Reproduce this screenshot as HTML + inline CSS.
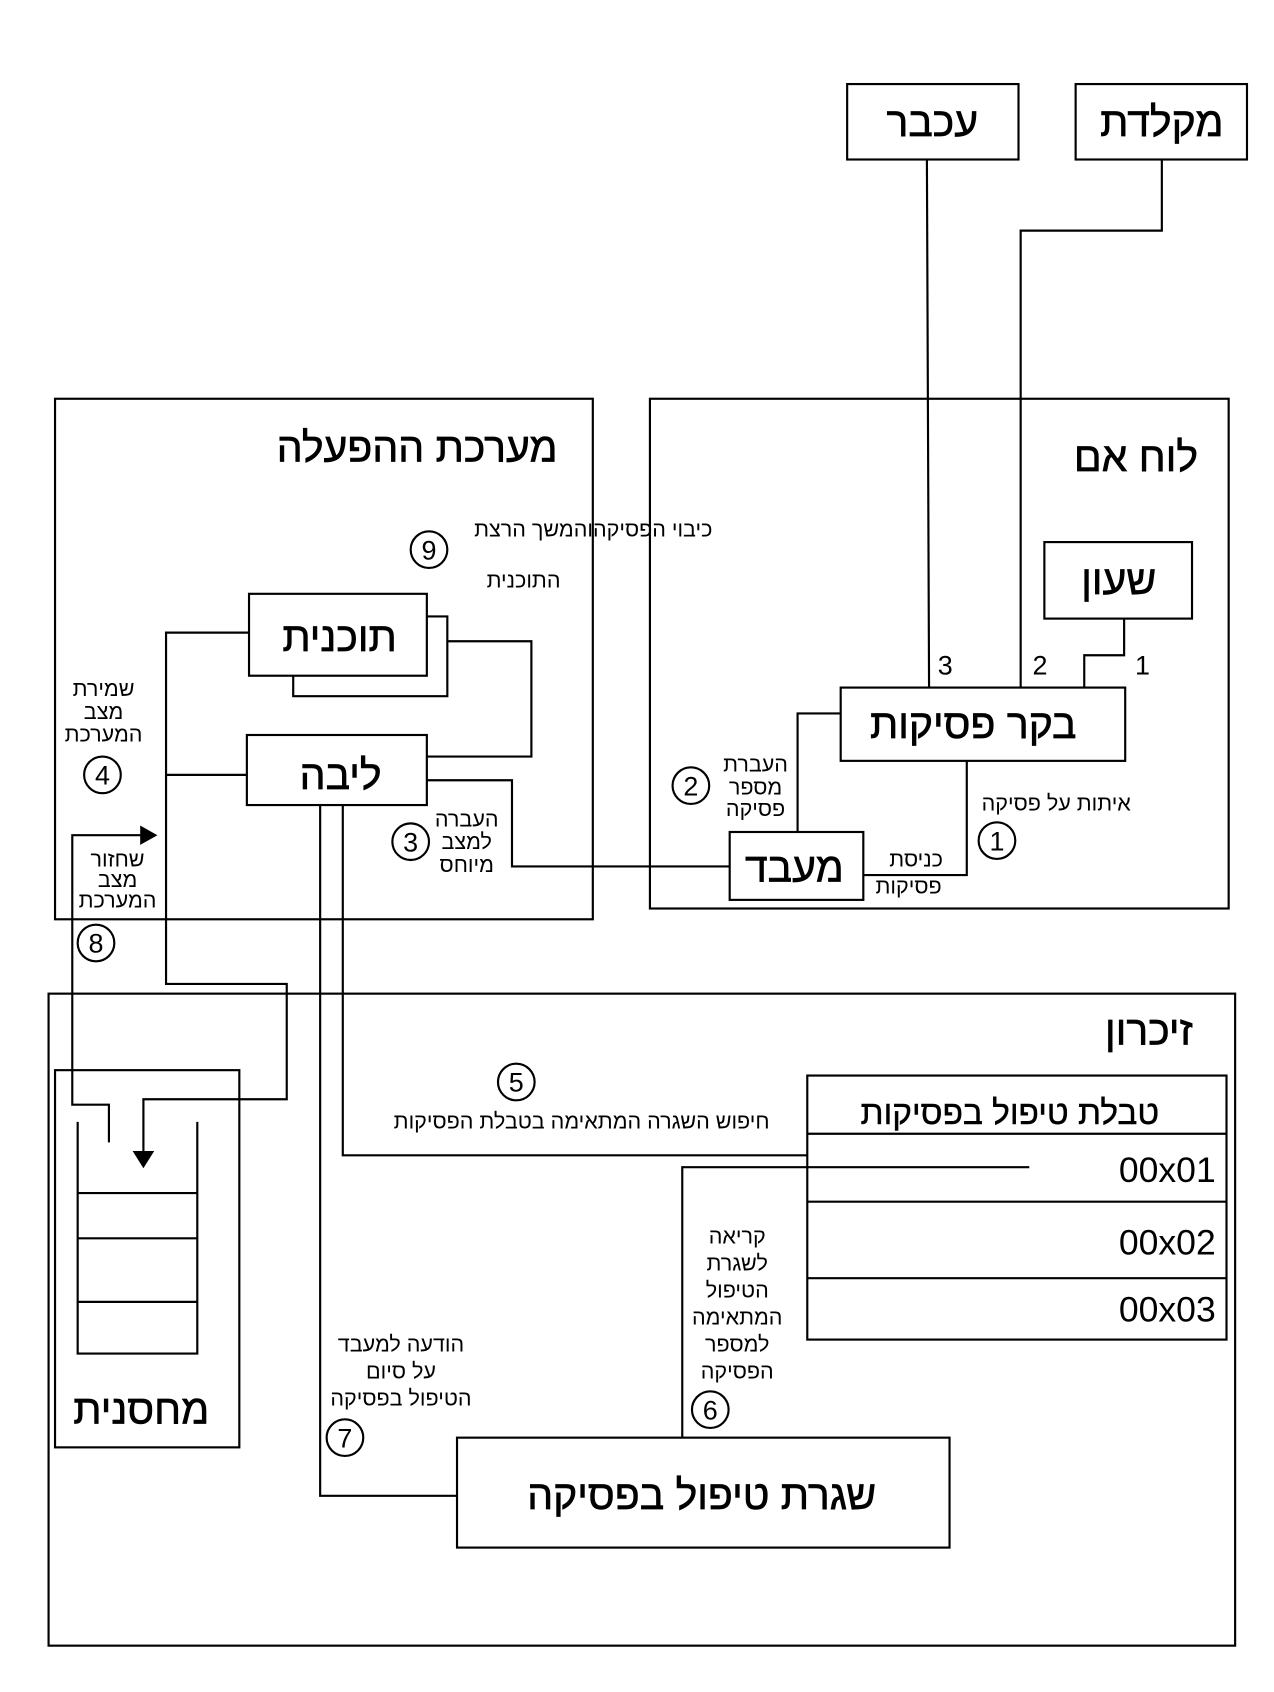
<!DOCTYPE html>
<html><head><meta charset="utf-8"><style>html,body{margin:0;padding:0;background:#fff}svg{display:block}</style></head>
<body>
<svg width="1274" height="1692" viewBox="0 0 1182 1570" xmlns="http://www.w3.org/2000/svg" font-family="'Liberation Sans','Noto Sans CJK JP',sans-serif">
<rect width="1182" height="1570" fill="#fff"/>
<g fill="none" stroke="#000" stroke-width="2">
<rect x="786" y="78" width="159" height="70"/>
<rect x="998" y="78" width="159" height="70"/>
<polyline points="860,148 862,638"/>
<polyline points="1078,148 1078,214 947,214 947,638"/>
<rect x="603" y="370" width="537" height="473"/>
<rect x="969" y="503" width="137" height="71"/>
<polyline points="1043,574 1043,608 1006,608 1006,638"/>
<rect x="780" y="638" width="264" height="68"/>
<polyline points="780,662 740,662 740,772"/>
<rect x="677" y="772" width="124" height="63"/>
<polyline points="897,706 897,812 801,812"/>
<circle cx="925" cy="780" r="17"/>
<circle cx="641" cy="729" r="17"/>
<rect x="51" y="370" width="499" height="483"/>
<polyline points="396,572 415,572 415,646 272,646 272,627"/>
<rect x="231" y="551" width="165" height="76"/>
<polyline points="415,595 493,595 493,702 396,702"/>
<rect x="229" y="682" width="167" height="65"/>
<polyline points="396,724 475,724 475,804 677,804"/>
<circle cx="381" cy="781" r="17"/>
<circle cx="398" cy="510" r="17"/>
<polyline points="231,587 154,587 154,913 266,913 266,1020 133,1020 133,1068"/>
<polyline points="229,719 154,719"/>
<polyline points="101,1060 101,1025 67,1025 67,775 132,775"/>
<circle cx="95" cy="719" r="17"/>
<circle cx="89" cy="875" r="17"/>
<polyline points="297,747 297,1388 424,1388"/>
<polyline points="318,747 318,1072 749,1072"/>
<rect x="45" y="922" width="1101" height="605"/>
<rect x="51" y="993" width="171" height="350"/>
<polyline points="72,1041 72,1256 183,1256 183,1041"/>
<line x1="72" y1="1107" x2="183" y2="1107"/>
<line x1="72" y1="1149" x2="183" y2="1149"/>
<line x1="72" y1="1208" x2="183" y2="1208"/>
<circle cx="479" cy="1004" r="17"/>
<rect x="749" y="998" width="389" height="245"/>
<line x1="749" y1="1052" x2="1138" y2="1052"/>
<line x1="749" y1="1115" x2="1138" y2="1115"/>
<line x1="749" y1="1186" x2="1138" y2="1186"/>
<polyline points="955,1083 633,1083 633,1334"/>
<circle cx="659" cy="1308" r="17"/>
<rect x="424" y="1334" width="457" height="102"/>
<circle cx="320" cy="1334" r="17"/>
</g>
<polygon points="123,1068 143,1068 133,1084" fill="#000"/>
<polygon points="130,766 146,775 130,784" fill="#000"/>
<g fill="#000" text-anchor="middle">
<g font-size="38" stroke="#000" stroke-width="0.6">
<text x="865" y="126">עכבר</text>
<text x="1078" y="126">מקלדת</text>
<text x="1054" y="437">לוח אם</text>
<text x="1038" y="551">שעון</text>
<text x="903" y="685">בקר פסיקות</text>
<text x="737" y="818">מעבד</text>
<text x="387" y="428">מערכת ההפעלה</text>
<text x="315" y="604">תוכנית</text>
<text x="316" y="732">ליבה</text>
<text x="1066" y="969">זיכרון</text>
<text x="131" y="1321">מחסנית</text>
<text x="651" y="1400">שגרת טיפול בפסיקה</text>
</g>
<g font-size="31" stroke="#000" stroke-width="0.4">
<text x="937" y="1043">טבלת טיפול בפסיקות</text>
</g>
<g font-size="33">
<text x="1128" y="1097" text-anchor="end">00x01</text>
<text x="1128" y="1164" text-anchor="end">00x02</text>
<text x="1128" y="1226" text-anchor="end">00x03</text>
</g>
<g font-size="25">
<text x="877" y="626">3</text>
<text x="965" y="626">2</text>
<text x="1060" y="626">1</text>
<text x="925" y="789">1</text>
<text x="641" y="738">2</text>
<text x="381" y="790">3</text>
<text x="95" y="728">4</text>
<text x="479" y="1013">5</text>
<text x="659" y="1317">6</text>
<text x="320" y="1343">7</text>
<text x="89" y="884">8</text>
<text x="398" y="519">9</text>
</g>
<g font-size="20">
<text x="850" y="804">כניסת</text>
<text x="843" y="829">פסיקות</text>
<text x="980" y="752">איתות על פסיקה</text>
<text x="701" y="716">העברת</text>
<text x="701" y="737">מספר</text>
<text x="701" y="757">פסיקה</text>
<text x="661" y="498" text-anchor="end">כיבוי הפסיקהוהמשך הרצת</text>
<text x="520" y="545" text-anchor="end">התוכנית</text>
<text x="433" y="767">העברה</text>
<text x="433" y="788">למצב</text>
<text x="433" y="809">מיוחס</text>
<text x="96" y="646">שמירת</text>
<text x="96" y="667">מצב</text>
<text x="96" y="688">המערכת</text>
<text x="109" y="804">שחזור</text>
<text x="109" y="823">מצב</text>
<text x="109" y="842">המערכת</text>
<text x="714" y="1047" text-anchor="end">חיפוש השגרה המתאימה בטבלת הפסיקות</text>
<text x="684" y="1154">קריאה</text>
<text x="684" y="1179">לשגרת</text>
<text x="684" y="1204">הטיפול</text>
<text x="684" y="1229">המתאימה</text>
<text x="684" y="1254">למספר</text>
<text x="684" y="1279">הפסיקה</text>
<text x="372" y="1254">הודעה למעבד</text>
<text x="372" y="1279">על סיום</text>
<text x="372" y="1304">הטיפול בפסיקה</text>
</g>
</g>
</svg>
</body></html>
